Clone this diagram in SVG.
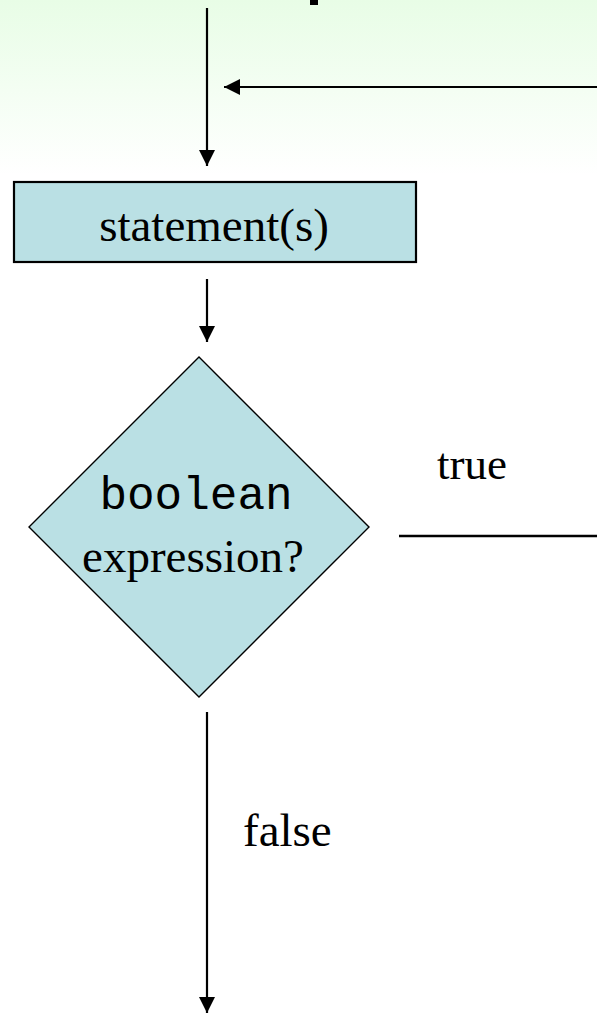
<svg xmlns="http://www.w3.org/2000/svg" width="597" height="1013" viewBox="0 0 597 1013">
<defs>
<linearGradient id="bg" x1="0" y1="0" x2="0" y2="1">
<stop offset="0" stop-color="#e8fde6"/>
<stop offset="1" stop-color="#ffffff"/>
</linearGradient>
<marker id="arr" markerUnits="userSpaceOnUse" markerWidth="16" markerHeight="16" viewBox="0 0 16 16" refX="16" refY="8" orient="auto">
<path d="M0,0 L16,8 L0,16 Z" fill="#000"/>
</marker>
<style>
.edge{stroke:#000;stroke-width:2.2;fill:none}
.node{fill:#bae0e4;stroke:#000}
.t{font-family:"Liberation Serif","Times New Roman",serif;font-size:47px;fill:#000}
.m{font-family:"Liberation Mono","Courier New",monospace;font-size:46px;fill:#000}
</style>
</defs>
<rect x="0" y="0" width="597" height="175" fill="url(#bg)"/>
<rect x="0" y="175" width="597" height="838" fill="#fff"/>
<rect x="310" y="0" width="8" height="5" fill="#000"/>
<g id="connectors">
<line class="edge" x1="207" y1="8" x2="207" y2="166" marker-end="url(#arr)"/>
<line class="edge" x1="597" y1="87" x2="224" y2="87" marker-end="url(#arr)"/>
<line class="edge" x1="207" y1="279" x2="207" y2="342" marker-end="url(#arr)"/>
<line class="edge" x1="399" y1="536" x2="597" y2="536" style="stroke-width:2.7"/>
<line class="edge" x1="207" y1="712" x2="207" y2="1013" marker-end="url(#arr)"/>
</g>
<g id="statement">
<rect class="node" x="14" y="182" width="402" height="80" stroke-width="2.2"/>
<text class="t" x="214" y="241" text-anchor="middle">statement(s)</text>
</g>
<g id="decision">
<polygon class="node" points="199,357 369,527 199,697 29,527" stroke-width="1.4"/>
<text class="m" x="196" y="509" text-anchor="middle">boolean</text>
<text class="t" x="193" y="572" text-anchor="middle">expression?</text>
</g>
<g id="labels">
<text class="t" x="437" y="479" style="font-size:45px">true</text>
<text class="t" x="243" y="846">false</text>
</g>
</svg>
